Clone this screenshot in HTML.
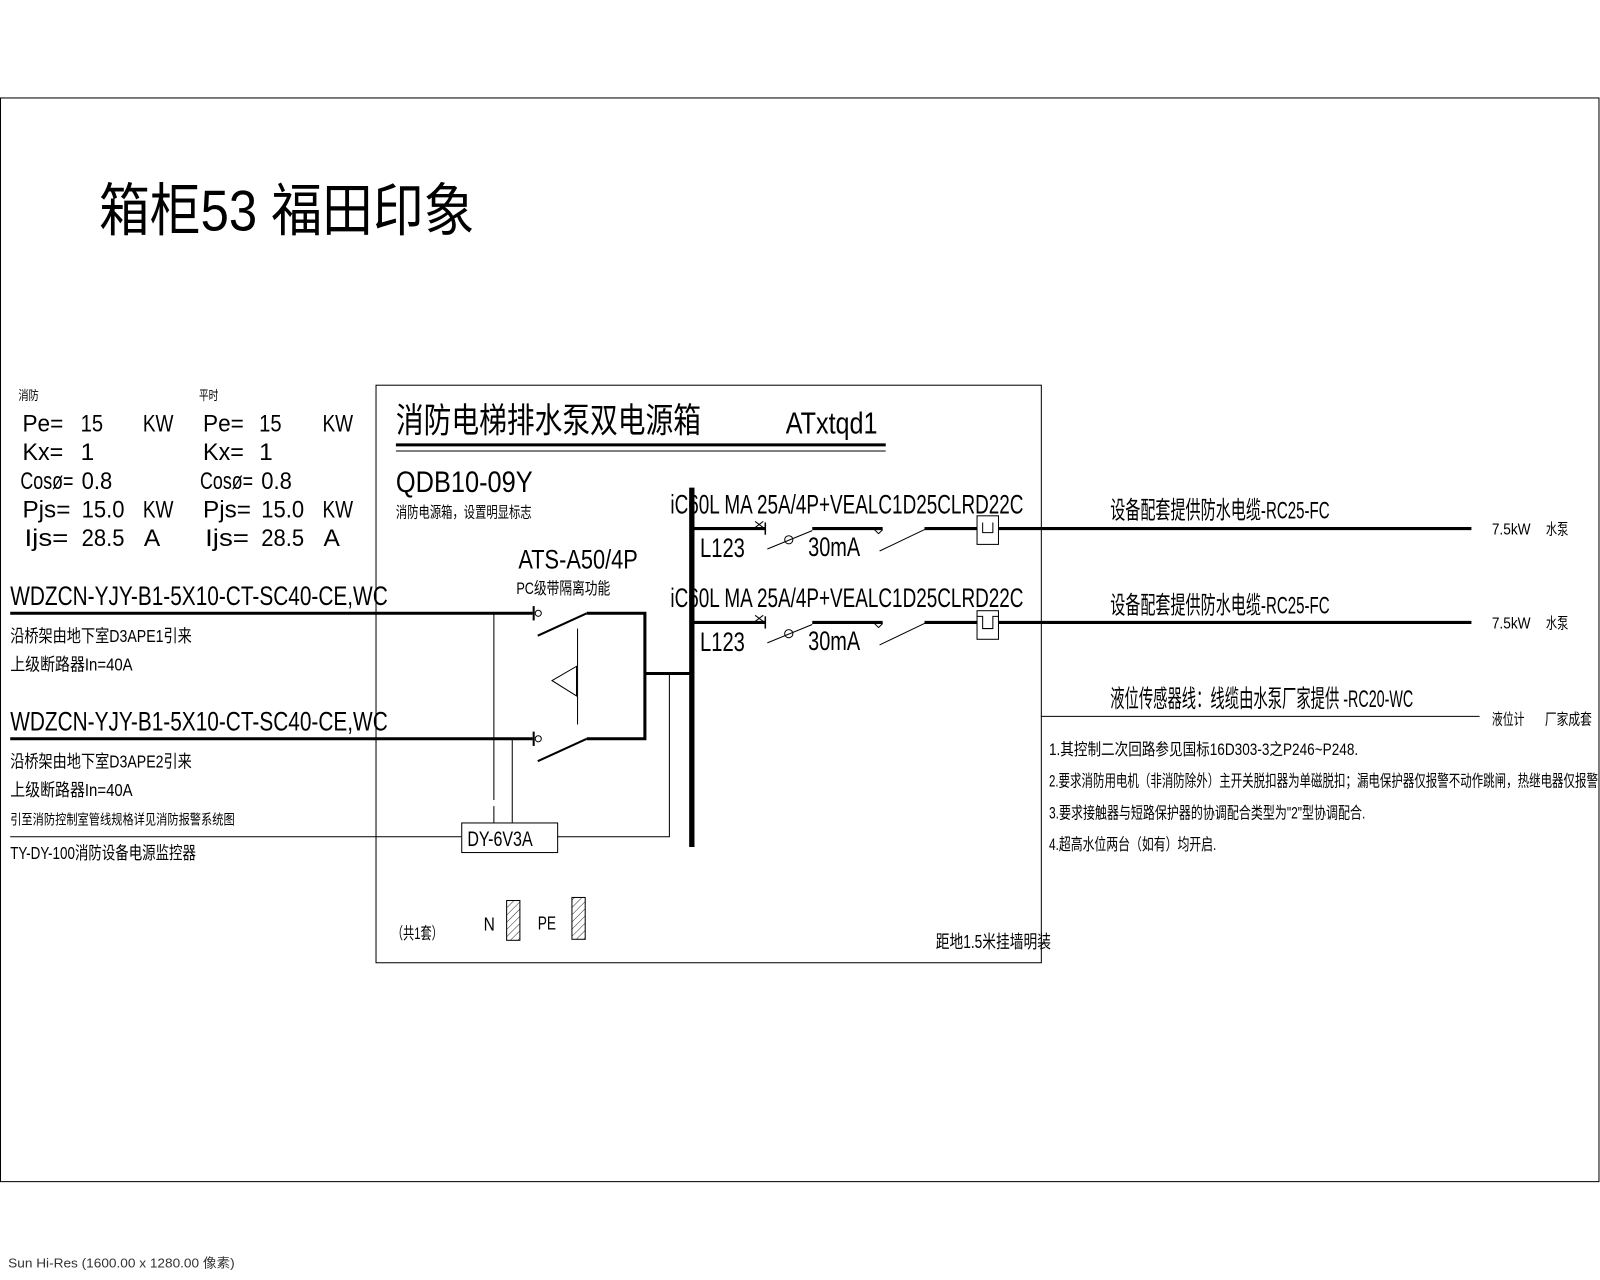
<!DOCTYPE html>
<html><head><meta charset="utf-8"><style>
html,body{margin:0;padding:0;background:#fff}
svg{display:block}
text{font-family:"Liberation Sans","Noto Sans CJK SC",sans-serif;fill:#000}
</style></head><body>
<svg width="1600" height="1280" viewBox="0 0 1568 1254.4" xmlns="http://www.w3.org/2000/svg">
<defs>
<pattern id="h" width="5" height="5" patternUnits="userSpaceOnUse" patternTransform="rotate(45)"><line x1="0" y1="0" x2="0" y2="5" stroke="#000" stroke-width="0.8"/></pattern>
</defs>
<rect width="1568" height="1254.4" fill="#fff"/>
<rect x="0.5" y="96" width="1566.5" height="1062" fill="none" stroke="#000" stroke-width="1"/>
<text x="97" y="226" font-size="56" textLength="368" lengthAdjust="spacingAndGlyphs">箱柜53 福田印象</text>

<!-- params -->
<text x="18" y="392" font-size="13" textLength="20" lengthAdjust="spacingAndGlyphs">消防</text>
<text x="195" y="392" font-size="13" textLength="19" lengthAdjust="spacingAndGlyphs">平时</text>
<g font-size="24">
<text x="22" y="423" textLength="40" lengthAdjust="spacingAndGlyphs">Pe=</text><text x="79" y="423" textLength="22" lengthAdjust="spacingAndGlyphs">15</text><text x="140" y="423" textLength="30" lengthAdjust="spacingAndGlyphs">KW</text>
<text x="22" y="451" textLength="40" lengthAdjust="spacingAndGlyphs">Kx=</text><text x="79" y="451">1</text>
<text x="20" y="479" textLength="52" lengthAdjust="spacingAndGlyphs">Cosø=</text><text x="80" y="479" textLength="30" lengthAdjust="spacingAndGlyphs">0.8</text>
<text x="22" y="507" textLength="47" lengthAdjust="spacingAndGlyphs">Pjs=</text><text x="80" y="507" textLength="42" lengthAdjust="spacingAndGlyphs">15.0</text><text x="140" y="507" textLength="30" lengthAdjust="spacingAndGlyphs">KW</text>
<text x="24" y="535" textLength="43" lengthAdjust="spacingAndGlyphs">Ijs=</text><text x="80" y="535" textLength="42" lengthAdjust="spacingAndGlyphs">28.5</text><text x="141" y="535">A</text>
<text x="199" y="423" textLength="40" lengthAdjust="spacingAndGlyphs">Pe=</text><text x="254" y="423" textLength="22" lengthAdjust="spacingAndGlyphs">15</text><text x="316" y="423" textLength="30" lengthAdjust="spacingAndGlyphs">KW</text>
<text x="199" y="451" textLength="40" lengthAdjust="spacingAndGlyphs">Kx=</text><text x="254" y="451">1</text>
<text x="196" y="479" textLength="52" lengthAdjust="spacingAndGlyphs">Cosø=</text><text x="256" y="479" textLength="30" lengthAdjust="spacingAndGlyphs">0.8</text>
<text x="199" y="507" textLength="47" lengthAdjust="spacingAndGlyphs">Pjs=</text><text x="256" y="507" textLength="42" lengthAdjust="spacingAndGlyphs">15.0</text><text x="316" y="507" textLength="30" lengthAdjust="spacingAndGlyphs">KW</text>
<text x="201" y="535" textLength="43" lengthAdjust="spacingAndGlyphs">Ijs=</text><text x="256" y="535" textLength="42" lengthAdjust="spacingAndGlyphs">28.5</text><text x="317" y="535">A</text>
</g>

<!-- box -->
<rect x="368.5" y="377.5" width="652" height="566" fill="none" stroke="#000" stroke-width="1"/>
<text x="388" y="424" font-size="34" textLength="299" lengthAdjust="spacingAndGlyphs">消防电梯排水泵双电源箱</text>
<text x="770" y="425" font-size="30" textLength="90" lengthAdjust="spacingAndGlyphs">ATxtqd1</text>
<line x1="388" y1="436" x2="868" y2="436" stroke="#000" stroke-width="3"/>
<line x1="388" y1="442" x2="868" y2="442" stroke="#000" stroke-width="1"/>
<text x="388" y="482" font-size="29" textLength="134" lengthAdjust="spacingAndGlyphs">QDB10-09Y</text>
<text x="388" y="507" font-size="15" textLength="133" lengthAdjust="spacingAndGlyphs">消防电源箱，设置明显标志</text>

<!-- incoming -->
<text x="10" y="593" font-size="26" textLength="370" lengthAdjust="spacingAndGlyphs">WDZCN-YJY-B1-5X10-CT-SC40-CE,WC</text>
<line x1="10" y1="601" x2="522" y2="601" stroke="#000" stroke-width="3"/>
<text x="10" y="629" font-size="17" textLength="178" lengthAdjust="spacingAndGlyphs">沿桥架由地下室D3APE1引来</text>
<text x="10" y="657" font-size="17" textLength="120" lengthAdjust="spacingAndGlyphs">上级断路器In=40A</text>
<text x="10" y="716" font-size="26" textLength="370" lengthAdjust="spacingAndGlyphs">WDZCN-YJY-B1-5X10-CT-SC40-CE,WC</text>
<line x1="10" y1="724" x2="522" y2="724" stroke="#000" stroke-width="3"/>
<text x="10" y="752" font-size="17" textLength="178" lengthAdjust="spacingAndGlyphs">沿桥架由地下室D3APE2引来</text>
<text x="10" y="780" font-size="17" textLength="120" lengthAdjust="spacingAndGlyphs">上级断路器In=40A</text>
<text x="10" y="808" font-size="14" textLength="220" lengthAdjust="spacingAndGlyphs">引至消防控制室管线规格详见消防报警系统图</text>
<line x1="10" y1="820" x2="452" y2="820" stroke="#000" stroke-width="1"/>
<text x="10" y="842" font-size="17" textLength="182" lengthAdjust="spacingAndGlyphs">TY-DY-100消防设备电源监控器</text>

<g stroke="#000" fill="none">
<line x1="523" y1="594" x2="523" y2="608" stroke-width="2"/>
<circle cx="527.5" cy="601" r="3" stroke-width="1"/>
<line x1="523" y1="717" x2="523" y2="731" stroke-width="2"/>
<circle cx="527.5" cy="724" r="3" stroke-width="1"/>
<line x1="527" y1="623" x2="575" y2="601" stroke-width="2"/>
<polyline points="575,601 632,601 632,724 575,724" stroke-width="3"/>
<line x1="527" y1="746" x2="575" y2="724" stroke-width="2"/>
<line x1="566" y1="616" x2="566" y2="710" stroke-width="1"/>
<polygon points="541,667 565,653 565,682" stroke-width="1"/>
<line x1="632" y1="660" x2="678" y2="660" stroke-width="3"/>
<line x1="484" y1="601" x2="484" y2="784" stroke-width="1"/>
<line x1="484" y1="790" x2="484" y2="806" stroke-width="1"/>
<line x1="502" y1="724" x2="502" y2="806" stroke-width="1"/>
<rect x="452.5" y="806.5" width="94" height="29" stroke-width="1"/>
<polyline points="546,820 656,820 656,660" stroke-width="1"/>
<line x1="678" y1="478" x2="678" y2="830" stroke-width="5"/>
</g>
<text x="508" y="557" font-size="26" textLength="117" lengthAdjust="spacingAndGlyphs">ATS-A50/4P</text>
<text x="506" y="582" font-size="16" textLength="92" lengthAdjust="spacingAndGlyphs">PC级带隔离功能</text>
<text x="458" y="829" font-size="21" textLength="64" lengthAdjust="spacingAndGlyphs">DY-6V3A</text>

<!-- circuits -->
<g id="c1">
<text x="657" y="503" font-size="26" textLength="346" lengthAdjust="spacingAndGlyphs">iC60L MA 25A/4P+VEALC1D25CLRD22C</text>
<text x="686" y="546" font-size="26" textLength="44" lengthAdjust="spacingAndGlyphs">L123</text>
<text x="792" y="545" font-size="26" textLength="51" lengthAdjust="spacingAndGlyphs">30mA</text>
<g stroke="#000" fill="none">
<line x1="678" y1="518" x2="750" y2="518" stroke-width="3"/>
<line x1="750" y1="512" x2="750" y2="524" stroke-width="1.5"/>
<line x1="740" y1="511" x2="748" y2="517" stroke-width="1"/><line x1="748" y1="511" x2="740" y2="517" stroke-width="1"/>
<line x1="752" y1="538" x2="796" y2="520" stroke-width="1"/>
<circle cx="773" cy="529" r="4" stroke-width="1"/>
<line x1="796" y1="518" x2="865" y2="518" stroke-width="3"/>
<path d="M857,519 L861,523 L865,519" stroke-width="1"/>
<line x1="862" y1="540" x2="906" y2="519" stroke-width="1"/>
<line x1="906" y1="518" x2="1442" y2="518" stroke-width="3"/>
<rect x="957.5" y="505.5" width="21" height="28" fill="#fff" stroke-width="1"/>
<path d="M963,512 V522 H973 V512" stroke-width="1"/>
</g>
</g>
<g>
<text x="657" y="595" font-size="26" textLength="346" lengthAdjust="spacingAndGlyphs">iC60L MA 25A/4P+VEALC1D25CLRD22C</text>
<text x="686" y="638" font-size="26" textLength="44" lengthAdjust="spacingAndGlyphs">L123</text>
<text x="792" y="637" font-size="26" textLength="51" lengthAdjust="spacingAndGlyphs">30mA</text>
<g stroke="#000" fill="none">
<line x1="678" y1="610" x2="750" y2="610" stroke-width="3"/>
<line x1="750" y1="604" x2="750" y2="616" stroke-width="1.5"/>
<line x1="740" y1="603" x2="748" y2="609" stroke-width="1"/><line x1="748" y1="603" x2="740" y2="609" stroke-width="1"/>
<line x1="752" y1="630" x2="796" y2="612" stroke-width="1"/>
<circle cx="773" cy="621" r="4" stroke-width="1"/>
<line x1="796" y1="610" x2="865" y2="610" stroke-width="3"/>
<path d="M857,611 L861,615 L865,611" stroke-width="1"/>
<line x1="862" y1="632" x2="906" y2="611" stroke-width="1"/>
<line x1="906" y1="610" x2="1442" y2="610" stroke-width="3"/>
<rect x="957.5" y="598.5" width="21" height="28" fill="#fff" stroke-width="1"/>
<path d="M957.5,604 H963 V616 H973 V604 H978.5" stroke-width="1"/>
</g>
</g>
<line x1="678" y1="478" x2="678" y2="830" stroke="#000" stroke-width="5"/>

<!-- right -->
<text x="1088" y="508" font-size="24" textLength="215" lengthAdjust="spacingAndGlyphs">设备配套提供防水电缆-RC25-FC</text>
<text x="1462" y="524" font-size="15" textLength="38" lengthAdjust="spacingAndGlyphs">7.5kW</text>
<text x="1515" y="524" font-size="15" textLength="22" lengthAdjust="spacingAndGlyphs">水泵</text>
<text x="1088" y="601" font-size="24" textLength="215" lengthAdjust="spacingAndGlyphs">设备配套提供防水电缆-RC25-FC</text>
<text x="1462" y="616" font-size="15" textLength="38" lengthAdjust="spacingAndGlyphs">7.5kW</text>
<text x="1515" y="616" font-size="15" textLength="22" lengthAdjust="spacingAndGlyphs">水泵</text>
<text x="1088" y="693" font-size="24" textLength="297" lengthAdjust="spacingAndGlyphs">液位传感器线：线缆由水泵厂家提供 -RC20-WC</text>
<line x1="1020" y1="702" x2="1450" y2="702" stroke="#000" stroke-width="1"/>
<text x="1462" y="710" font-size="15" textLength="32" lengthAdjust="spacingAndGlyphs">液位计</text>
<text x="1514" y="710" font-size="15" textLength="46" lengthAdjust="spacingAndGlyphs">厂家成套</text>
<g font-size="16">
<text x="1028" y="740" textLength="303" lengthAdjust="spacingAndGlyphs">1.其控制二次回路参见国标16D303-3之P246~P248.</text>
<text x="1028" y="771" textLength="538" lengthAdjust="spacingAndGlyphs">2.要求消防用电机（非消防除外）主开关脱扣器为单磁脱扣；漏电保护器仅报警不动作跳闸，热继电器仅报警</text>
<text x="1028" y="802" textLength="310" lengthAdjust="spacingAndGlyphs">3.要求接触器与短路保护器的协调配合类型为"2"型协调配合.</text>
<text x="1028" y="833" textLength="164" lengthAdjust="spacingAndGlyphs">4.超高水位两台（如有）均开启.</text>
</g>

<!-- bottom -->
<text x="384" y="920" font-size="16" textLength="50" lengthAdjust="spacingAndGlyphs">（共1套）</text>
<text x="474" y="912" font-size="18" textLength="11" lengthAdjust="spacingAndGlyphs">N</text>
<rect x="496.5" y="882.5" width="13" height="39" fill="url(#h)" stroke="#000" stroke-width="1"/>
<text x="527" y="911" font-size="18" textLength="18" lengthAdjust="spacingAndGlyphs">PE</text>
<rect x="560.5" y="879.5" width="13" height="41" fill="url(#h)" stroke="#000" stroke-width="1"/>
<text x="917" y="929" font-size="18" textLength="113" lengthAdjust="spacingAndGlyphs">距地1.5米挂墙明装</text>

<text x="8" y="1242" font-size="13" fill="#333" style="fill:#333" textLength="222" lengthAdjust="spacingAndGlyphs">Sun Hi-Res (1600.00 x 1280.00 像素)</text>
</svg>
</body></html>
